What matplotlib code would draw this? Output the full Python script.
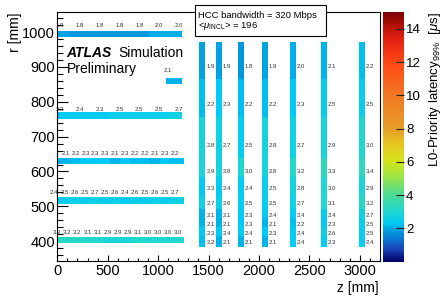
import numpy as np
import matplotlib
matplotlib.use("Agg")
import matplotlib.pyplot as plt
from matplotlib.colors import LinearSegmentedColormap, Normalize
from matplotlib.patches import Rectangle
from matplotlib.cm import ScalarMappable
from matplotlib.ticker import MultipleLocator

plt.rcParams['font.family'] = ['Liberation Sans', 'DejaVu Sans']
plt.rcParams['mathtext.fontset'] = 'custom'
plt.rcParams['mathtext.rm'] = 'Liberation Sans'
plt.rcParams['mathtext.it'] = 'Liberation Sans:italic'

# ---- barrel layers (horizontal bars) ----
barrel_r = [995, 760, 630, 517, 403, 860]
barrel_label_r = [1019, 779, 652, 539, 425, 889]
barrel_zmin = [0, 0, 0, 0, 0, 1077]
barrel_zmax = [1235, 1235, 1256, 1256, 1256, 1235]
barrel_label_z = [
    [25, 222, 419, 616, 813, 1010, 1207],
    [25, 222, 419, 616, 813, 1010, 1207],
    [83, 181, 279, 377, 475, 573, 671, 769, 867, 965, 1063, 1161],
    [-30, 70, 170, 270, 370, 470, 570, 670, 770, 870, 970, 1070, 1170],
    [0, 100, 200, 300, 400, 500, 600, 700, 800, 900, 1000, 1100, 1200],
    [1100],
]
barrel_vals = [
    [1.9, 1.8, 1.8, 1.8, 1.8, 2.0, 2.0],
    [2.3, 2.4, 2.3, 2.5, 2.5, 2.5, 2.7],
    [2.1, 2.2, 2.3, 2.3, 2.3, 2.1, 2.3, 2.2, 2.2, 2.1, 2.3, 2.2],
    [2.4, 2.5, 2.6, 2.5, 2.7, 2.5, 2.6, 2.4, 2.6, 2.5, 2.6, 2.5, 2.7],
    [3.3, 3.2, 3.2, 3.1, 3.1, 2.9, 2.9, 2.9, 3.1, 3.0, 3.0, 3.0, 3.0],
    [2.1],
]
barrel_h = 19

# ---- end-cap disks (vertical bars) ----
disk_z = [1436, 1602, 1820, 2058, 2336, 2643, 3020]
disk_w = 58
ring_lo = [866, 756, 638, 585, 528, 492, 466, 441, 415, 382]
ring_hi = [973, 866, 756, 638, 585, 528, 492, 466, 441, 415]
ring_label_r = [901, 791, 676, 601, 552, 509, 473, 448, 422, 396]
disk_vals = [
    [1.9, 2.2, 2.8, 2.9, 2.3, 2.7, 2.1, 2.1, 2.3, 2.2],
    [1.9, 2.3, 2.7, 2.8, 2.4, 2.6, 2.1, 2.1, 2.4, 2.1],
    [1.8, 2.2, 2.5, 3.0, 2.4, 2.5, 2.3, 2.3, 2.4, 2.1],
    [1.9, 2.2, 2.8, 2.8, 2.5, 2.5, 2.4, 2.1, 2.3, 2.1],
    [2.0, 2.3, 2.7, 3.2, 2.8, 2.7, 2.4, 2.2, 2.4, 2.4],
    [2.1, 2.5, 2.9, 3.3, 3.0, 3.1, 2.4, 2.3, 2.6, 2.3],
    [2.2, 2.5, 3.0, 3.4, 2.9, 3.2, 2.7, 2.5, 2.5, 2.4],
]

# palette (value, colour)
pal_vals = [0, 0.7, 1.3, 1.8, 2.3, 3.0, 4.0, 5.0, 6.0, 7.0, 8.0, 10.0, 12.0, 13.5, 15.0]
pal_cols = [(0.0, 0.0, 0.40), (0.10, 0.25, 0.70), (0.05, 0.45, 0.82), (0.0, 0.60, 0.86),
            (0.0, 0.79, 0.96), (0.12, 0.84, 0.82), (0.30, 0.86, 0.58), (0.58, 0.89, 0.30),
            (0.82, 0.90, 0.10), (0.90, 0.78, 0.12), (0.90, 0.62, 0.15), (0.95, 0.47, 0.14),
            (1.0, 0.28, 0.08), (0.88, 0.12, 0.06), (0.50, 0.0, 0.0)]
zmin, zmax = 0, 15
cmap = LinearSegmentedColormap.from_list(
    'rootpal', [((v - zmin) / (zmax - zmin), c) for v, c in zip(pal_vals, pal_cols)], N=255)
norm = Normalize(zmin, zmax)

W, H = 444, 297
fig = plt.figure(figsize=(W / 100, H / 100), dpi=100)
def fx(px):
    return px / W
def fy(py):
    return 1 - py / H

ax = fig.add_axes([fx(57.3), fy(261), fx(380) - fx(57.3), fy(12.3) - fy(261)])
cax = fig.add_axes([fx(383.3), fy(261.7), fx(404) - fx(383.3), fy(12.3) - fy(261.7)])

lab_fs = 4.3
lab_col = '#333333'

# barrel
for r, rl, z0, z1, zs, vals in zip(barrel_r, barrel_label_r, barrel_zmin, barrel_zmax,
                                    barrel_label_z, barrel_vals):
    zs = np.array(zs, dtype=float)
    edges = np.concatenate([[z0], (zs[:-1] + zs[1:]) / 2, [z1]])
    edges = np.clip(edges, z0, z1)
    ax.barh(r, edges[1:] - edges[:-1], left=edges[:-1], height=barrel_h,
            color=cmap(norm(vals)), linewidth=0, zorder=2)
    for z, v in zip(zs, vals):
        ax.text(z, rl, f"{v:.1f}", fontsize=lab_fs, color=lab_col,
                ha='center', va='center', zorder=3)

# end-caps
lo = np.array(ring_lo)
hi = np.array(ring_hi)
for z, vals in zip(disk_z, disk_vals):
    ax.bar(np.full(len(lo), z), hi - lo, bottom=lo, width=disk_w,
           color=cmap(norm(vals)), linewidth=0, zorder=2)
    for rl, v in zip(ring_label_r, vals):
        ax.text(z + disk_w / 2 + 12, rl, f"{v:.1f}", fontsize=lab_fs, color=lab_col,
                ha='left', va='center', zorder=3)

ax.set_xlim(0, 3200)
ax.set_ylim(343, 1057)
ax.xaxis.set_major_locator(MultipleLocator(500))
ax.xaxis.set_minor_locator(MultipleLocator(100))
ax.yaxis.set_major_locator(MultipleLocator(100))
ax.yaxis.set_minor_locator(MultipleLocator(20))
ax.tick_params(axis='both', which='both', direction='in', top=False, right=False,
               labelsize=10.5, width=0.8)
ax.tick_params(axis='y', which='major', length=7.9, pad=1.5)
ax.tick_params(axis='y', which='minor', length=4.0)
ax.tick_params(axis='x', which='major', length=4.3, pad=2.5)
ax.tick_params(axis='x', which='minor', length=2.2)
for sp in ax.spines.values():
    sp.set_linewidth(0.8)

fig.text(fx(15), fy(12.3), 'r [mm]', rotation=90, fontsize=10, ha='center', va='top')
fig.text(fx(379), fy(288), 'z [mm]', fontsize=10, ha='right', va='center')

# ATLAS label
fig.text(fx(66.7), fy(53), 'ATLAS', fontsize=10, fontweight='bold', fontstyle='italic',
         ha='left', va='center')
fig.text(fx(118.3), fy(53), 'Simulation', fontsize=10, ha='left', va='center')
fig.text(fx(66.7), fy(69), 'Preliminary', fontsize=10, ha='left', va='center')

# info box
fig.add_artist(Rectangle((fx(195), fy(35.7)), fx(325.7) - fx(195), fy(5) - fy(35.7),
                         transform=fig.transFigure, facecolor='white', edgecolor='black',
                         linewidth=0.8, zorder=5))
fig.text(fx(198.3), fy(15), 'HCC bandwidth = 320 Mbps', fontsize=6.8, ha='left',
         va='center', zorder=6)
fig.text(fx(198.3), fy(26), r'<$\mu_{\mathrm{INCL}}$> = 196', fontsize=6.8, ha='left',
         va='center', zorder=6)

# colour bar
sm = ScalarMappable(norm=norm, cmap=cmap)
cb = fig.colorbar(sm, cax=cax)
cb.outline.set_visible(False)
cb.set_ticks([2, 4, 6, 8, 10, 12, 14])
cax.tick_params(direction='in', length=6, width=0.8, labelsize=9.5, pad=1.5,
                color='#222222')
cax.minorticks_off()
fig.text(fx(435), fy(12), r'L0-Priority latency$_{99\%}$  [$\mu$s]', rotation=90,
         fontsize=9.5, ha='center', va='top')

fig.savefig('out.png', dpi=100)
